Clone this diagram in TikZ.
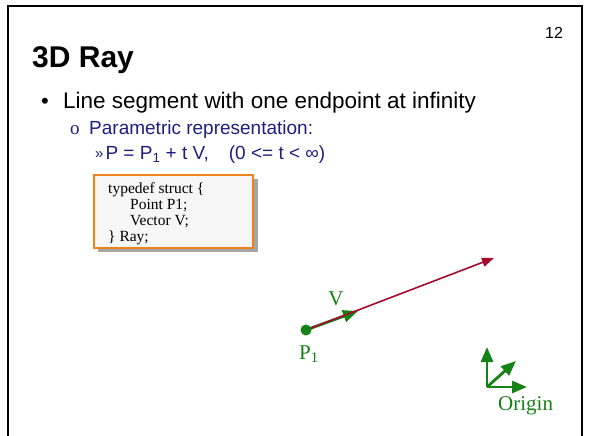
\documentclass[tikz,border=0pt]{standalone}
\usepackage{fontspec}
\setmainfont{Liberation Sans}
\newfontfamily\serif{Liberation Serif}
\usetikzlibrary{arrows.meta}
\definecolor{navy}{RGB}{30,30,130}
\definecolor{raycol}{RGB}{165,10,45}
\definecolor{grn}{RGB}{20,130,20}
\definecolor{boxorange}{RGB}{240,130,30}
\tikzset{
  lbl/.style={inner sep=0pt, anchor=base west},
  greenlbl/.style={inner sep=0pt, anchor=base, text=grn, font=\serif\fontsize{21}{21}\selectfont},
  codetext/.style={lbl, font=\serif\fontsize{15.5}{15.5}\selectfont},
  garrow/.style={draw=grn, line width=2.8pt, -{Triangle[length=15pt,width=12pt]}},
}
\begin{document}
\begin{tikzpicture}[x=1pt,y=-1pt]
\useasboundingbox (0,0) rectangle (589,436);
% slide frame
\draw[line width=2.2pt] (8,440) -- (8,6) -- (582,6) -- (582,440);
% page number
\node[lbl, font=\fontsize{16}{16}\selectfont] (num) at (545,39) {12};
% title
\node[lbl, font=\bfseries\fontsize{30}{30}\selectfont] (title) at (32,67) {3D Ray};
% bullet
\node[lbl, font=\fontsize{22}{22}\selectfont] (bul) at (41,108) {\textbullet};
\node[lbl, font=\fontsize{22.5}{22.5}\selectfont] (l1) at (63,108) {Line segment with one endpoint at infinity};
\node[lbl, text=navy, font=\serif\fontsize{19}{19}\selectfont] (o) at (70,134) {o};
\node[lbl, text=navy, font=\fontsize{19}{19}\selectfont] (l2) at (89,134) {Parametric representation:};
\node[lbl, text=navy, font=\fontsize{19}{19}\selectfont] (l3) at (95,159) {\raisebox{1pt}{\fontsize{15}{15}\selectfont»}\hspace{2pt}P = P\textsubscript{1} + t V,\hspace{20pt}(0 <= t < ∞)};
% code box
\fill[gray!70] (98,179) rectangle (258,252);
\draw[draw=boxorange, fill=gray!7, line width=1.3pt] (94,175) rectangle (253,248);
\node[codetext] (c1) at (108,193) {typedef struct \{};
\node[codetext] (c2) at (130,209) {Point P1;};
\node[codetext] (c3) at (130,225) {Vector V;};
\node[codetext] (c4) at (108,241) {\} Ray;};
% ray
\coordinate (P1) at (306,330);
\coordinate (Vend) at (358,311);
\coordinate (Rend) at (494,258);
\draw[garrow] (P1) -- (Vend);
\draw[draw=raycol, line width=1.6pt, -{Triangle[length=12pt,width=9pt]}] (P1) -- (Rend);
\fill[grn] (P1) circle (5.5pt);
\node[greenlbl] (Vl) at (336,305) {V};
\node[greenlbl, anchor=base west] (P1l) at (299,359) {P\textsubscript{1}};
% origin axes
\coordinate (O) at (487,387);
\coordinate (Oy) at (487,347);
\coordinate (Ox) at (527,387);
\coordinate (Oz) at (516,361);
\draw[garrow] (O) -- (Oy);
\draw[garrow] (O) -- (Ox);
\draw[garrow] (O) -- (Oz);
\node[greenlbl, anchor=base west] (orig) at (498,410) {Origin};
\end{tikzpicture}
\end{document}
